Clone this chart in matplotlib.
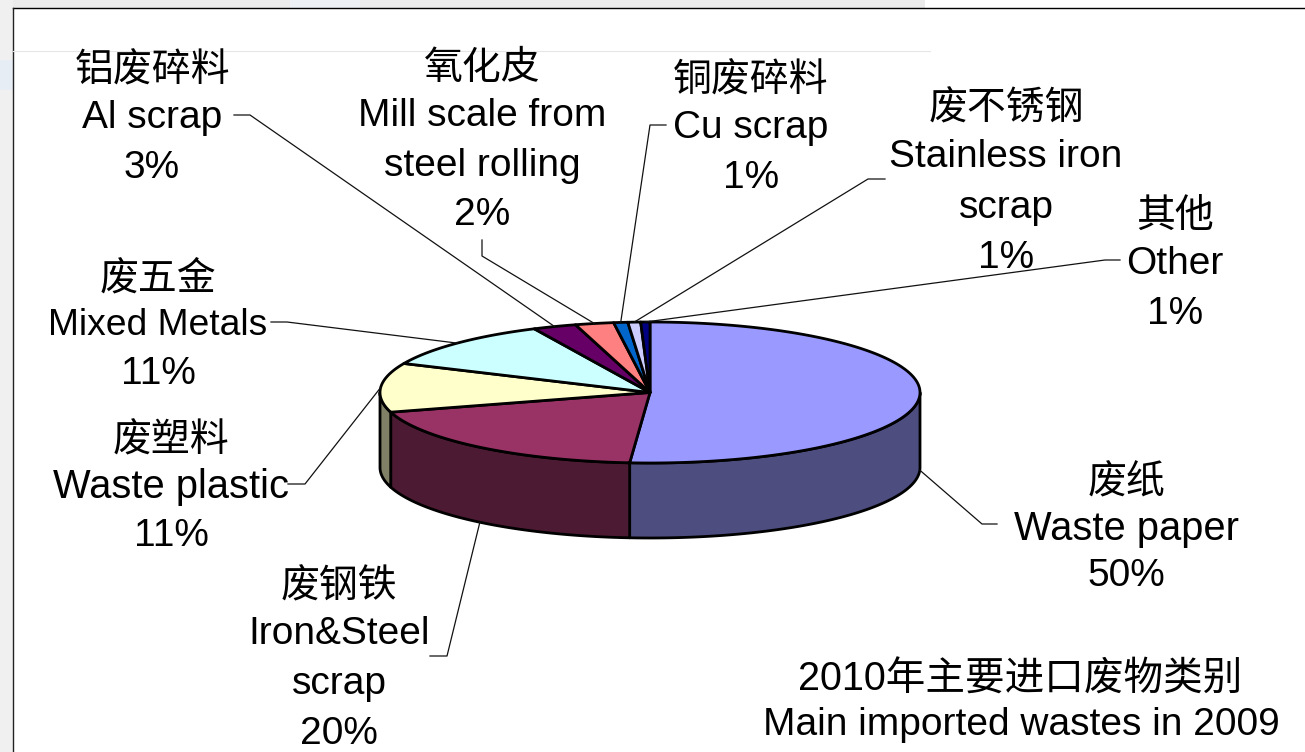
import numpy as np
import matplotlib
matplotlib.use("Agg")
import matplotlib.pyplot as plt
from matplotlib.patches import Rectangle

plt.rcParams['font.family'] = ['Liberation Sans', 'Noto Sans CJK SC', 'DejaVu Sans']

# shares going clockwise from 12 o'clock
names = ["Waste paper", "Iron&Steel scrap", "Waste plastic", "Mixed Metals", "Al scrap",
         "Mill scale", "Cu scrap", "Stainless iron scrap", "Other"]
values = [51.2, 19.3, 11.25, 11.2, 2.6, 2.3, 0.84, 0.76, 0.55]
top_colors = ["#9999ff", "#993366", "#ffffcc", "#ccffff", "#660066",
              "#ff8080", "#0066cc", "#ccccff", "#000080"]
side_colors = ["#4d4d80", "#4d1a33", "#808066", "#668080", "#330033",
               "#804040", "#003366", "#666680", "#000040"]
labels = [
    ["废纸", "Waste paper", "50%"],
    ["废钢铁", "Iron&Steel", "scrap", "20%"],
    ["废塑料", "Waste plastic", "11%"],
    ["废五金", "Mixed Metals", "11%"],
    ["铝废碎料", "Al scrap", "3%"],
    ["氧化皮", "Mill scale from", "steel rolling", "2%"],
    ["铜废碎料", "Cu scrap", "1%"],
    ["废不锈钢", "Stainless iron", "scrap", "1%"],
    ["其他", "Other", "1%"],
]
title_lines = ["2010年主要进口废物类别", "Main imported wastes in 2009"]

# pie geometry in pixels
cx, cy, rx, ry, depth = 650, 392.5, 270, 70.5, 75

# label centre x, first line y, line spacing
label_pos = [(1126, 478, 48), (339, 582, 50), (171, 436, 49), (158, 274, 49), (152, 66, 49.5),
             (482, 64, 49.5), (751, 76, 50), (1006, 104, 50.5), (1175, 212, 50)]
# leader: start, elbow
leaders = [((997, 524), (982, 524)), ((430, 656), (447, 656)), ((288, 484), (305, 484)),
           ((271, 322), (287, 322)), ((234, 115), (250, 115)), ((482, 240), (482, 256)),
           ((666, 125), (650, 125)), ((885, 179), (868, 179)), ((1120, 260), (1105, 260))]
# the original squeezes a few lines a little differently
size_override = {"Mixed Metals": 26.8, "Waste plastic": 28.7, "Waste paper": 28.7}


def rim(a, dz=0):
    a = np.radians(a)
    return cx + rx * np.sin(a), cy - ry * np.cos(a) + dz


fig = plt.figure(figsize=(13.05, 7.52), dpi=100)
ax = fig.add_axes([0, 0, 1, 1])
ax.set_xlim(0, 1305)
ax.set_ylim(752, 0)
ax.axis("off")

# screenshot background around the frame
ax.add_patch(Rectangle((0, 0), 925, 8, color="#ebebeb", lw=0))
ax.add_patch(Rectangle((0, 0), 13, 752, color="#f0f0f0", lw=0))
ax.add_patch(Rectangle((0, 60), 13, 30, color="#e6edf4", lw=0))
ax.add_patch(Rectangle((290, 0), 70, 8, color="#edf1f5", lw=0))
ax.plot([13, 1305], [8, 8], color="black", lw=1)
ax.plot([13, 13], [8, 752], color="#222222", lw=1)
ax.plot([13, 930], [51, 51], color="#e6e6e6", lw=0.8)

edges = np.cumsum([0] + values) / sum(values) * 360

# side walls
for i in range(len(values)):
    a0, a1 = max(edges[i], 90), min(edges[i + 1], 270)
    if a1 <= a0:
        continue
    t = np.linspace(a0, a1, 200)
    xs, ys = rim(t)
    xb, yb = rim(t[::-1], depth)
    ax.fill(np.r_[xs, xb], np.r_[ys, yb], facecolor=side_colors[i], edgecolor="black", lw=2, joinstyle="round")

# top slices
for i in range(len(values)):
    t = np.linspace(edges[i], edges[i + 1], 200)
    xs, ys = rim(t)
    ax.fill(np.r_[cx, xs], np.r_[cy, ys], facecolor=top_colors[i], edgecolor="black", lw=2, joinstyle="round")

# leaders end on the rim of each slice, on the wall for the two big ones
for i, (p0, p1) in enumerate(leaders):
    mid = (edges[i] + edges[i + 1]) / 2
    end = rim(mid, depth if i < 2 else 0)
    ax.plot([p0[0], p1[0], end[0]], [p0[1], p1[1], end[1]], color="#111111", lw=0.9)

for lines, (x, y, dy) in zip(labels, label_pos):
    for k, s in enumerate(lines):
        shift = 5 if k == 0 else 2.5
        ax.text(x, y + k * dy + shift, s, fontsize=size_override.get(s, 28), ha="center", va="center", color="black")

ax.text(1020, 680, title_lines[0], fontsize=28.5, ha="center", va="center", color="black")
ax.text(1021, 725, title_lines[1], fontsize=28, ha="center", va="center", color="black")

fig.savefig("out.png", dpi=100)
